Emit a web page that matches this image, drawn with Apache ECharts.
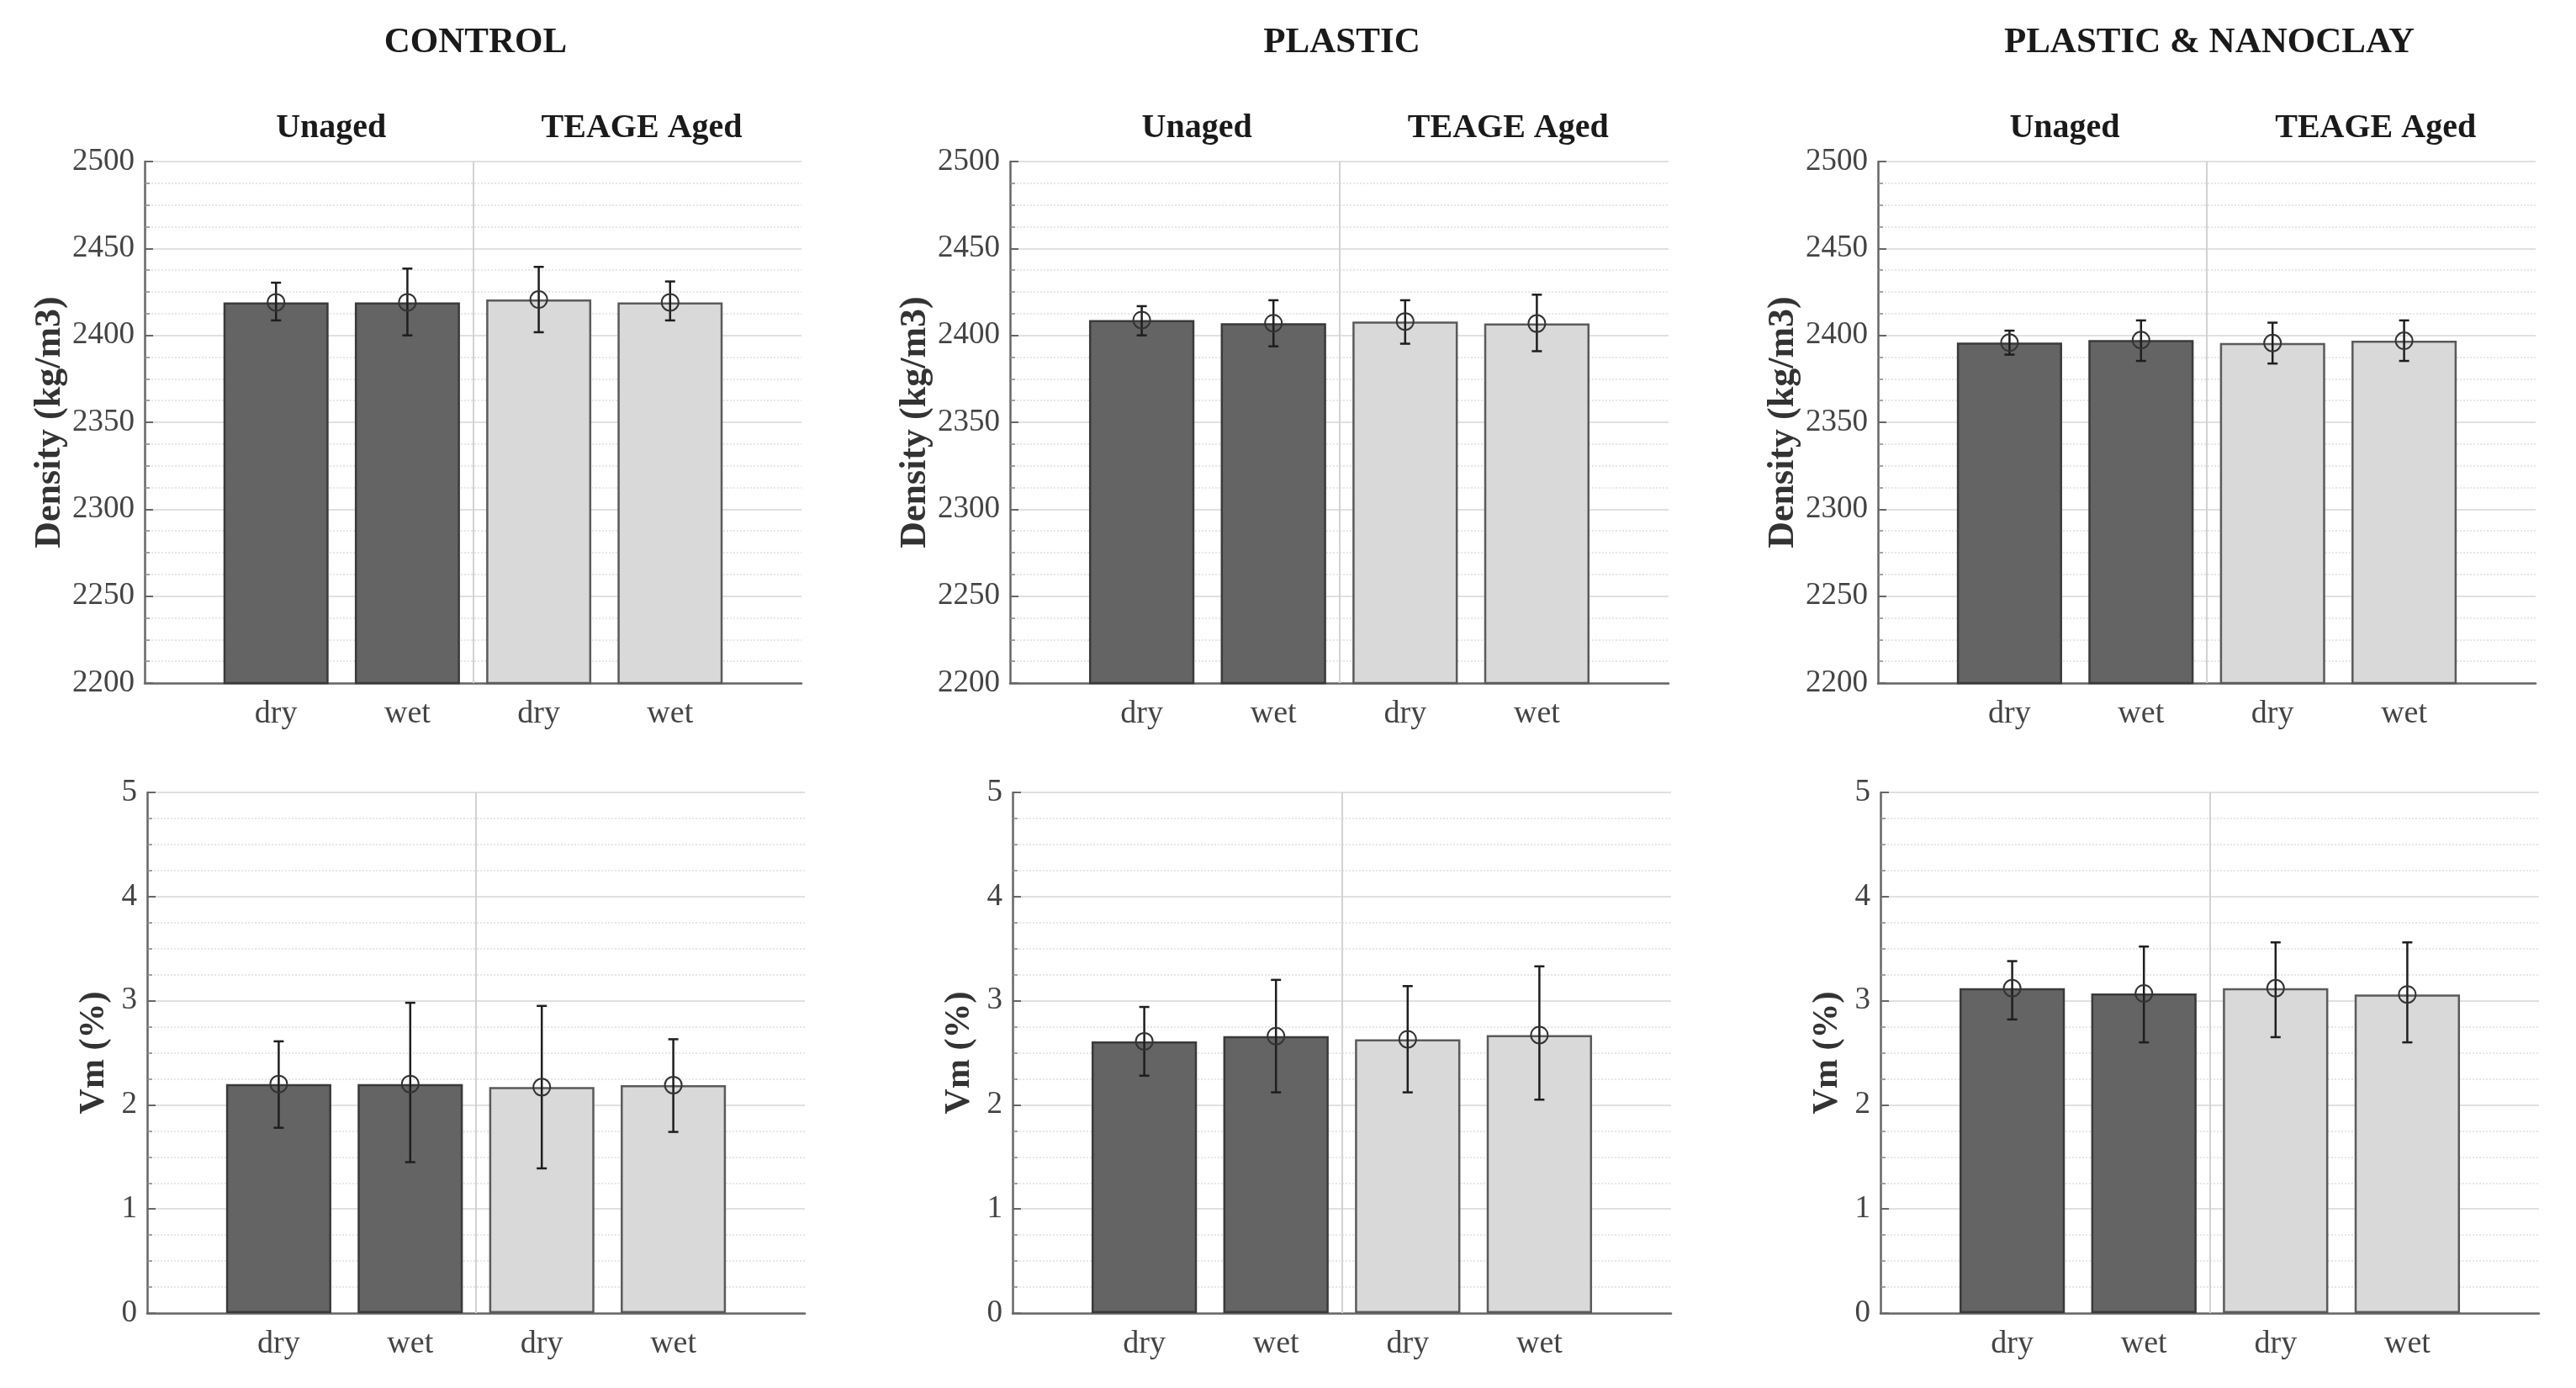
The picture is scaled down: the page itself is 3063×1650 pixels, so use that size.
<!DOCTYPE html>
<html>
<head>
<meta charset="utf-8">
<script src="https://cdn.jsdelivr.net/npm/echarts@6/dist/echarts.min.js"></script>
<style>
html,body{margin:0;padding:0;background:#fff;}
#chart{width:3063px;height:1650px;}
</style>
</head>
<body>
<div id="chart"></div>
<script>
// ---------- data ----------
const conditions = ['dry', 'wet', 'dry', 'wet'];
const groupLabels = ['Unaged', 'TEAGE Aged'];
const panelTitles = ['CONTROL', 'PLASTIC', 'PLASTIC & NANOCLAY'];
const densityTicks = [2200, 2250, 2300, 2350, 2400, 2450, 2500];
const vmTicks = [0, 1, 2, 3, 4, 5];

const controlDensity     = [2419.0, 2419.0, 2420.6, 2419.0];
const controlDensityLow  = [2408.6, 2400.0, 2401.8, 2408.6];
const controlDensityHigh = [2430.3, 2438.4, 2439.4, 2431.0];
const controlVm     = [2.20, 2.20, 2.17, 2.19];
const controlVmLow  = [1.78, 1.45, 1.39, 1.74];
const controlVmHigh = [2.61, 2.98, 2.95, 2.63];

const plasticDensity     = [2408.8, 2407.0, 2408.0, 2406.8];
const plasticDensityLow  = [2400.0, 2393.7, 2395.2, 2390.9];
const plasticDensityHigh = [2416.8, 2420.2, 2420.2, 2423.4];
const plasticVm     = [2.61, 2.66, 2.63, 2.67];
const plasticVmLow  = [2.28, 2.12, 2.12, 2.05];
const plasticVmHigh = [2.94, 3.20, 3.14, 3.33];

const nanoclayDensity     = [2395.8, 2397.3, 2395.6, 2396.9];
const nanoclayDensityLow  = [2388.9, 2385.3, 2383.8, 2385.3];
const nanoclayDensityHigh = [2402.7, 2408.6, 2407.3, 2408.6];
const nanoclayVm     = [3.12, 3.07, 3.12, 3.06];
const nanoclayVmLow  = [2.82, 2.60, 2.65, 2.60];
const nanoclayVmHigh = [3.38, 3.52, 3.56, 3.56];

// ---------- layout / style ----------
const FONT = '"Liberation Serif", "DejaVu Serif", serif';
const panels = [
  {mean: controlDensity, low: controlDensityLow, high: controlDensityHigh, ticks: densityTicks, name: 'Density (kg/m3)', left: 172, top: 192, width: 781, height: 620, nameGap: 88},
  {mean: plasticDensity, low: plasticDensityLow, high: plasticDensityHigh, ticks: densityTicks, name: 'Density (kg/m3)', left: 1201, top: 192, width: 783, height: 620, nameGap: 88},
  {mean: nanoclayDensity, low: nanoclayDensityLow, high: nanoclayDensityHigh, ticks: densityTicks, name: 'Density (kg/m3)', left: 2233, top: 192, width: 782, height: 620, nameGap: 88},
  {mean: controlVm, low: controlVmLow, high: controlVmHigh, ticks: vmTicks, name: 'Vm (%)', left: 175, top: 942, width: 782, height: 619, nameGap: 42},
  {mean: plasticVm, low: plasticVmLow, high: plasticVmHigh, ticks: vmTicks, name: 'Vm (%)', left: 1204, top: 942, width: 783, height: 619, nameGap: 42},
  {mean: nanoclayVm, low: nanoclayVmLow, high: nanoclayVmHigh, ticks: vmTicks, name: 'Vm (%)', left: 2236, top: 942, width: 783, height: 619, nameGap: 42}
];
const DARK = '#646464', DARK_EDGE = '#3a3a3a';
const LIGHT = '#d9d9d9', LIGHT_EDGE = '#5a5a5a';

const grids = [], xAxes = [], yAxes = [], series = [], graphics = [];

panels.forEach(function (p, i) {
  grids.push({left: p.left, top: p.top, width: p.width, height: p.height, containLabel: false});
  xAxes.push({
    type: 'value', gridIndex: i, min: 0, max: 5, interval: 1,
    axisLine: {show: true, lineStyle: {color: '#666', width: 2.5}},
    axisTick: {show: false},
    splitLine: {show: false},
    axisLabel: {
      formatter: function (v) { return (v >= 1 && v <= 4) ? conditions[v - 1] : ''; },
      fontFamily: FONT, fontSize: 38, color: '#444', margin: 18
    }
  });
  const tmin = p.ticks[0], tmax = p.ticks[p.ticks.length - 1];
  yAxes.push({
    type: 'value', gridIndex: i, min: tmin, max: tmax, interval: p.ticks[1] - p.ticks[0],
    name: p.name, nameLocation: 'middle', nameRotate: 90, nameGap: p.nameGap,
    nameTextStyle: {fontFamily: FONT, fontSize: i < 3 ? 44 : 42, fontWeight: 'bold', color: '#333'},
    axisLine: {show: true, lineStyle: {color: '#666', width: 2.5}},
    axisTick: {show: true, inside: true, length: 10, lineStyle: {color: '#666', width: 2}},
    minorTick: {show: true, splitNumber: 4, length: 6, lineStyle: {color: '#888', width: 1.5}},
    splitLine: {show: true, lineStyle: {color: '#e0e0e0', width: 2}},
    minorSplitLine: {show: true, lineStyle: {color: '#e6e6e6', width: 2, type: 'dotted'}},
    axisLabel: {
      formatter: function (v) { return String(v); },
      fontFamily: FONT, fontSize: 37, color: '#444', margin: 12
    }
  });

  series.push({
    type: 'bar', xAxisIndex: i, yAxisIndex: i, barWidth: '80%', z: 2,
    data: p.mean.map(function (v, k) {
      const aged = k >= 2;
      return {value: [k + 1, v], itemStyle: {color: aged ? LIGHT : DARK, borderColor: aged ? LIGHT_EDGE : DARK_EDGE, borderWidth: 2.5}};
    }),
    markLine: {
      silent: true, symbol: ['none', 'none'], label: {show: false},
      lineStyle: {color: '#d2d2d2', width: 2, type: 'solid'},
      data: [{xAxis: 2.5}]
    }
  });

  series.push({
    type: 'custom', xAxisIndex: i, yAxisIndex: i, z: 5,
    data: p.mean.map(function (v, k) { return [k + 1, v, p.low[k], p.high[k]]; }),
    encode: {x: 0, y: [1, 2, 3]},
    renderItem: function (params, api) {
      const x = api.value(0);
      const m = api.coord([x, api.value(1)]);
      const lo = api.coord([x, api.value(2)]);
      const hi = api.coord([x, api.value(3)]);
      const cap = 6;
      const st = {stroke: '#1e1e1e', lineWidth: 2.5};
      return {
        type: 'group',
        children: [
          {type: 'line', shape: {x1: lo[0], y1: lo[1], x2: hi[0], y2: hi[1]}, style: st},
          {type: 'line', shape: {x1: lo[0] - cap, y1: lo[1], x2: lo[0] + cap, y2: lo[1]}, style: st},
          {type: 'line', shape: {x1: hi[0] - cap, y1: hi[1], x2: hi[0] + cap, y2: hi[1]}, style: st},
          {type: 'circle', shape: {cx: m[0], cy: m[1], r: 10}, style: {fill: 'none', stroke: '#333', lineWidth: 2}}
        ]
      };
    }
  });

  if (i < 3) {
    graphics.push({type: 'text', x: p.left + p.width / 2 + 3, y: 51,
      style: {text: panelTitles[i], fontFamily: FONT, fontSize: 43, fontWeight: 'bold', fill: '#1a1a1a', textAlign: 'center', textVerticalAlign: 'middle', verticalAlign: 'middle'}});
    graphics.push({type: 'text', x: p.left + p.width * 1 / 5, y: 153,
      style: {text: groupLabels[0], fontFamily: FONT, fontSize: 40, fontWeight: 'bold', fill: '#1a1a1a', textAlign: 'left', textVerticalAlign: 'middle', verticalAlign: 'middle'}});
    graphics.push({type: 'text', x: p.left + p.width * 3 / 5 + 3, y: 153,
      style: {text: groupLabels[1], fontFamily: FONT, fontSize: 40, fontWeight: 'bold', fill: '#1a1a1a', textAlign: 'left', textVerticalAlign: 'middle', verticalAlign: 'middle'}});
  }
});

const chart = echarts.init(document.getElementById('chart'), null, {renderer: 'canvas'});
chart.setOption({
  backgroundColor: '#ffffff',
  animation: false,
  grid: grids,
  xAxis: xAxes,
  yAxis: yAxes,
  series: series,
  graphic: graphics
});
</script>
</body>
</html>
